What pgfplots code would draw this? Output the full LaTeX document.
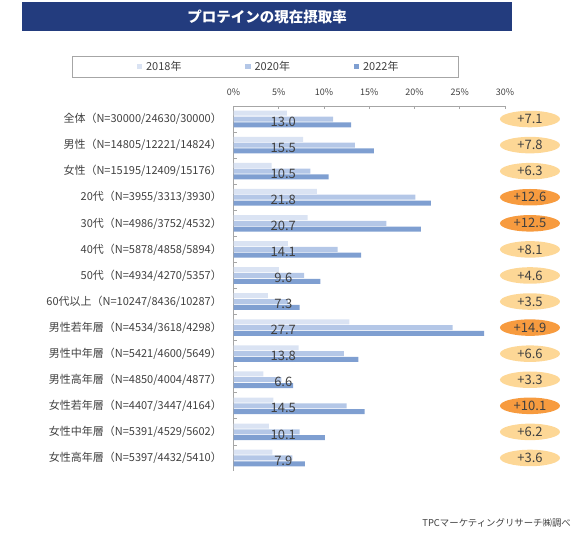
\documentclass[border=0pt]{standalone}
\usepackage{fontspec}
\setmainfont{Noto Sans CJK JP}
\usepackage{pgfplots}
\usepackage{pgfplotstable}
\pgfplotsset{compat=1.18}
\usetikzlibrary{shapes.geometric}

\definecolor{navy}{HTML}{233C7E}
\definecolor{c18}{HTML}{DAE3F3}
\definecolor{c20}{HTML}{B4C7E7}
\definecolor{c22}{HTML}{7F9FD1}
\definecolor{peach}{HTML}{FDD796}
\definecolor{orng}{HTML}{F79B3F}
\definecolor{txt}{HTML}{404040}
\definecolor{axgray}{HTML}{A6A6A6}

% rows from the top: 全体 = 13 ... 女性高年層 = 0
\pgfplotstableread{
y  v18  v20  v22
13 5.9  11.0 13.0
12 7.7  13.4 15.5
11 4.2  8.5  10.5
10 9.2  20.1 21.8
9  8.2  16.9 20.7
8  6.0  11.5 14.1
7  5.0  7.8  9.6
6  3.8  6.0  7.3
5  12.8 24.2 27.7
4  7.2  12.2 13.8
3  3.3  5.3  6.6
2  4.4  12.5 14.5
1  3.9  7.3  10.1
0  4.3  6.5  7.9
}\protein

\newcommand\vl[2]{\node[font=\fontsize{13bp}{14bp}\selectfont, text=txt, inner sep=0pt]
  at (axis cs:5.5,#1) [yshift=-2.5bp] {#2};}
\newcommand\dl[3]{\node[ellipse, fill=#3, minimum width=60bp, minimum height=16.5bp,
  inner sep=0pt, text=txt, font=\fontsize{13bp}{14bp}\selectfont]
  at (axis cs:32.76,#1) {#2};}

\begin{document}
\begin{tikzpicture}
\useasboundingbox (0,0) rectangle (580bp,537bp);
\fill[navy] (22bp,506bp) rectangle (512bp,535bp);
\node[text=white, font=\fontsize{14.5bp}{16bp}\selectfont\bfseries] at (267bp,520.5bp) {プロテインの現在摂取率};
\draw[axgray, line width=0.8bp] (72bp,460bp) rectangle (458bp,481bp);

\begin{axis}[
    at={(233.5bp,66bp)}, anchor=south west,
    width=271.5bp, height=365bp, scale only axis,
    xbar, clip=false,
    xmin=0, xmax=30, ymin=-0.5, ymax=13.5,
    axis x line*=top, axis y line*=left,
    axis line style={axgray, line width=0.8bp},
    xtick={0,5,...,30},
    xticklabels={0\%,5\%,10\%,15\%,20\%,25\%,30\%},
    xtick align=inside, major tick length=3bp,
    xtick style={axgray, line width=0.8bp},
    xticklabel style={inner sep=0pt, anchor=center, yshift=13.5bp, text=txt,
        font=\fontsize{9bp}{10bp}\selectfont},
    ytick={0,...,13},
    yticklabels={女性高年層（N=5397/4432/5410）,
                 女性中年層（N=5391/4529/5602）,
                 女性若年層（N=4407/3447/4164）,
                 男性高年層（N=4850/4004/4877）,
                 男性中年層（N=5421/4600/5649）,
                 男性若年層（N=4534/3618/4298）,
                 60代以上（N=10247/8436/10287）,
                 50代（N=4934/4270/5357）,
                 40代（N=5878/4858/5894）,
                 30代（N=4986/3752/4532）,
                 20代（N=3955/3313/3930）,
                 女性（N=15195/12409/15176）,
                 男性（N=14805/12221/14824）,
                 全体（N=30000/24630/30000）},
    ytick style={draw=none},
    yticklabel style={inner sep=0pt, anchor=east, xshift=-8.5bp, text=txt,
        font=\fontsize{11bp}{12bp}\selectfont},
    extra y ticks={0.5,1.5,...,12.5},
    extra y tick labels={},
    extra y tick style={ytick style={draw=axgray, line width=0.8bp}, ytick align=inside},
    legend columns=3,
    legend style={at={(axis description cs:-0.3565,1.1082)}, anchor=west,
        draw=none, fill=none, inner sep=0pt,
        font=\fontsize{11bp}{12bp}\selectfont, text=txt,
        nodes={text width=92bp, inner xsep=1bp, align=left},
        /tikz/every odd column/.append style={column sep=3bp},
        /tikz/every even column/.append style={column sep=6.3bp}},
  ]
\addplot[xbar, bar width=5bp, bar shift=5.8bp, fill=c18, draw=none,
  legend image code/.code={\fill[c18] (0bp,-2.6bp) rectangle (5.2bp,2.6bp);}]
  table[x=v18, y=y]{\protein};
\addplot[xbar, bar width=5bp, bar shift=0bp, fill=c20, draw=none,
  legend image code/.code={\fill[c20] (0bp,-2.6bp) rectangle (5.2bp,2.6bp);}]
  table[x=v20, y=y]{\protein};
\addplot[xbar, bar width=5bp, bar shift=-5.8bp, fill=c22, draw=none,
  legend image code/.code={\fill[c22] (0bp,-2.6bp) rectangle (5.2bp,2.6bp);}]
  table[x=v22, y=y]{\protein};
\legend{2018年,2020年,2022年}

\vl{13}{13.0} \vl{12}{15.5} \vl{11}{10.5} \vl{10}{21.8} \vl{9}{20.7}
\vl{8}{14.1} \vl{7}{9.6} \vl{6}{7.3} \vl{5}{27.7} \vl{4}{13.8}
\vl{3}{6.6} \vl{2}{14.5} \vl{1}{10.1} \vl{0}{7.9}

\dl{13}{+7.1}{peach} \dl{12}{+7.8}{peach} \dl{11}{+6.3}{peach}
\dl{10}{+12.6}{orng} \dl{9}{+12.5}{orng} \dl{8}{+8.1}{peach}
\dl{7}{+4.6}{peach} \dl{6}{+3.5}{peach} \dl{5}{+14.9}{orng}
\dl{4}{+6.6}{peach} \dl{3}{+3.3}{peach} \dl{2}{+10.1}{orng}
\dl{1}{+6.2}{peach} \dl{0}{+3.6}{peach}
\end{axis}

\node[anchor=east, inner sep=0pt, text=txt, font=\fontsize{9.4bp}{11bp}\selectfont]
  at (571bp,14bp) {TPCマーケティングリサーチ㈱調べ};
\end{tikzpicture}
\end{document}
